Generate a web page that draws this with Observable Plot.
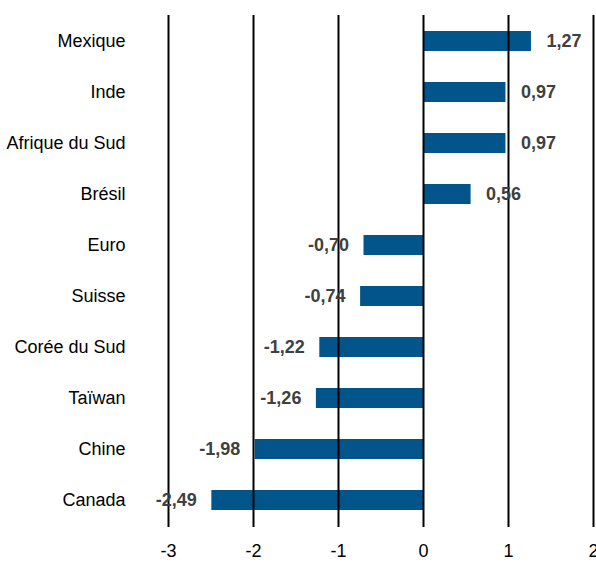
<!DOCTYPE html>
<html><head><meta charset="utf-8">
<script src="https://cdn.jsdelivr.net/npm/d3@7"></script>
<script src="https://cdn.jsdelivr.net/npm/@observablehq/plot@0.6"></script>
<style>
body{margin:0;background:#fff;}
svg{font-family:"Liberation Sans",Arial,sans-serif;}
</style>
</head><body>
<div id="chart"></div>
<script>
const countries = ["Mexique","Inde","Afrique du Sud","Brésil","Euro","Suisse","Corée du Sud","Taïwan","Chine","Canada"];
const values = [1.27,0.97,0.97,0.56,-0.70,-0.74,-1.22,-1.26,-1.98,-2.49];
const xTicks = [-3,-2,-1,0,1,2];

const data = countries.map((c,i)=>({country:c, value:values[i]}));
const fmt = v => v.toFixed(2).replace(".", ",");

const chart = Plot.plot({
  width: 596, height: 562,
  marginLeft: 168, marginRight: 3, marginTop: 15, marginBottom: 35,
  style: {fontSize: "18px", color: "#000", background: "#fff"},
  x: {domain: [-3, 2], ticks: xTicks, tickSize: 0, tickPadding: 17, label: null, tickFormat: d => String(d)},
  y: {domain: countries, paddingInner: 0.6, paddingOuter: 0.3, tickSize: 0, tickPadding: 43, label: null},
  marks: [
    Plot.barX(data, {x: "value", y: "country", fill: "#02558B"}),
    Plot.ruleX(xTicks, {stroke: "#000", strokeWidth: 2}),
    Plot.text(data.filter(d=>d.value>=0), {x: "value", y: "country", text: d=>fmt(d.value), textAnchor: "start", dx: 15, fill: "#404040", fontWeight: "bold", fontSize: 18}),
    Plot.text(data.filter(d=>d.value<0), {x: "value", y: "country", text: d=>fmt(d.value), textAnchor: "end", dx: -15, fill: "#404040", fontWeight: "bold", fontSize: 18})
  ]
});
document.getElementById("chart").appendChild(chart);
</script>
</body></html>
